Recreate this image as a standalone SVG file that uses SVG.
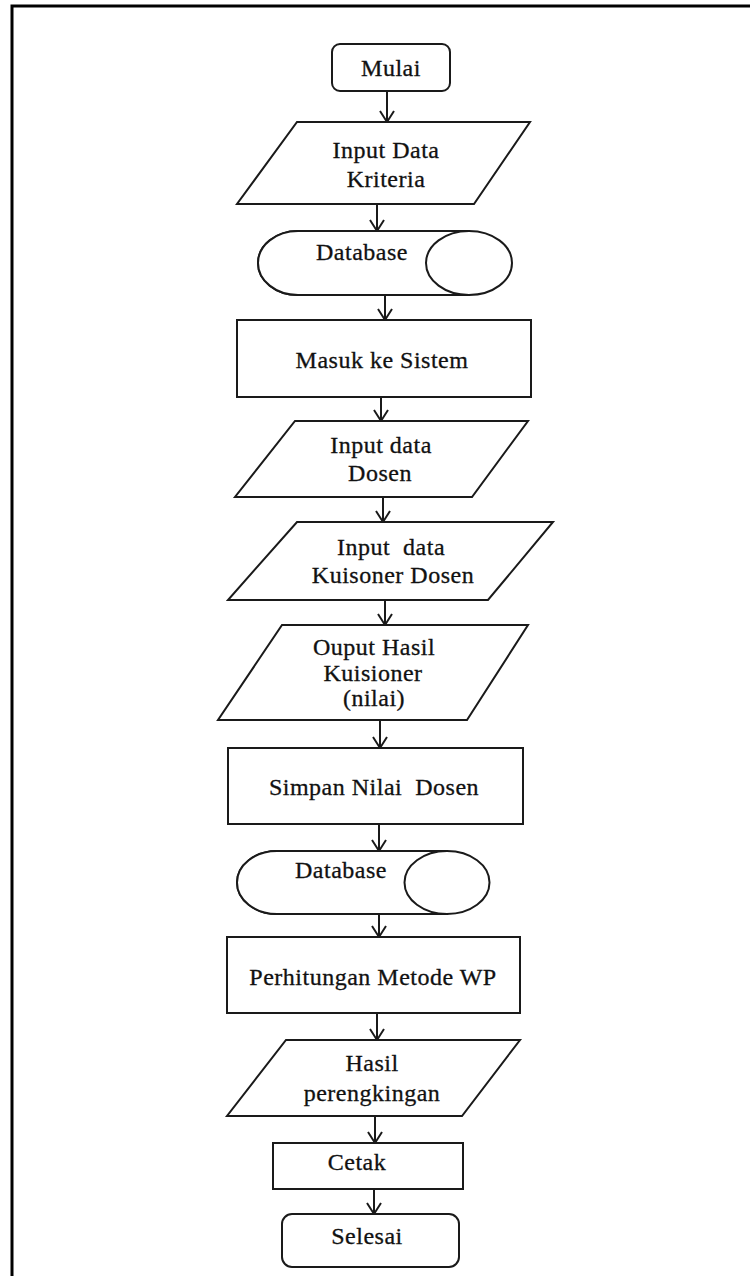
<svg xmlns="http://www.w3.org/2000/svg" width="750" height="1276" viewBox="0 0 750 1276">
  <style>
    .frame { fill: none; stroke: #000; stroke-width: 3; }
    .shape { fill: #fff; stroke: #1a1a1a; stroke-width: 2; }
    .flow { fill: none; stroke: #1a1a1a; stroke-width: 2; marker-end: url(#head); }
    .lbl { font-family: 'Liberation Serif', 'Times New Roman', serif; font-size: 24px; letter-spacing: 0.5px; fill: #111; stroke: #111; stroke-width: 0.3; text-anchor: middle; }
    .pre { white-space: pre; }
  </style>
  <defs>
    <marker id="head" viewBox="-12 -12 24 24" markerWidth="24" markerHeight="24" refX="0" refY="0" orient="auto" markerUnits="userSpaceOnUse" overflow="visible">
      <path d="M-11,-7 L0,0 L-11,7" fill="none" stroke="#1a1a1a" stroke-width="2"/>
    </marker>
  </defs>

  <rect width="750" height="1276" fill="#fff"/>
  <!-- page frame (left and top edges) -->
  <path class="frame" d="M12,1276 V6 H750"/>

  <g id="connectors">
    <line class="flow" x1="387" y1="91" x2="387" y2="122"/>
    <line class="flow" x1="377" y1="204" x2="377" y2="231"/>
    <line class="flow" x1="385" y1="295" x2="385" y2="320"/>
    <line class="flow" x1="381" y1="397" x2="381" y2="421"/>
    <line class="flow" x1="383" y1="497" x2="383" y2="522"/>
    <line class="flow" x1="385" y1="600" x2="385" y2="625"/>
    <line class="flow" x1="380" y1="720" x2="380" y2="748"/>
    <line class="flow" x1="379" y1="824" x2="379" y2="851"/>
    <line class="flow" x1="379" y1="914" x2="379" y2="937"/>
    <line class="flow" x1="377" y1="1013" x2="377" y2="1040"/>
    <line class="flow" x1="375" y1="1116" x2="375" y2="1143"/>
    <line class="flow" x1="374" y1="1189" x2="374" y2="1214"/>
  </g>

  <g id="mulai">
    <rect class="shape" x="332" y="44" width="118" height="47" rx="8"/>
    <text class="lbl" x="391" y="76">Mulai</text>
  </g>

  <g id="input-kriteria">
    <polygon class="shape" points="297,122 530,122 474,204 237,204"/>
    <text class="lbl" x="386" y="158">Input Data</text>
    <text class="lbl" x="386" y="187">Kriteria</text>
  </g>

  <g id="database-1">
    <path class="shape" d="M298,231 H469 V295 H298 A40,32 0 0 1 298,231 Z" stroke="none"/>
    <path class="shape" fill="none" d="M298,231 H469 M298,295 H469 M298,231 A40,32 0 0 0 298,295"/>
    <ellipse class="shape" cx="469" cy="263" rx="43" ry="32"/>
    <text class="lbl" x="362" y="260">Database</text>
  </g>

  <g id="masuk-sistem">
    <rect class="shape" x="237" y="320" width="294" height="77"/>
    <text class="lbl" x="382" y="368">Masuk ke Sistem</text>
  </g>

  <g id="input-dosen">
    <polygon class="shape" points="295,421 528,421 472,497 235,497"/>
    <text class="lbl" x="381" y="453">Input data</text>
    <text class="lbl" x="380" y="481">Dosen</text>
  </g>

  <g id="input-kuisoner">
    <polygon class="shape" points="297,522 553,522 488,600 228,600"/>
    <text class="lbl pre" x="391" y="555">Input  data</text>
    <text class="lbl" x="393" y="583">Kuisoner Dosen</text>
  </g>

  <g id="output-kuisioner">
    <polygon class="shape" points="282,625 528,625 467,720 218,720"/>
    <text class="lbl" x="374" y="655">Ouput Hasil</text>
    <text class="lbl" x="373" y="681">Kuisioner</text>
    <text class="lbl" x="374" y="706">(nilai)</text>
  </g>

  <g id="simpan-nilai">
    <rect class="shape" x="228" y="748" width="295" height="76"/>
    <text class="lbl pre" x="374" y="795">Simpan Nilai  Dosen</text>
  </g>

  <g id="database-2">
    <path class="shape" d="M277,851 H447 V914 H277 A40,31.5 0 0 1 277,851 Z" stroke="none"/>
    <path class="shape" fill="none" d="M277,851 H447 M277,914 H447 M277,851 A40,31.5 0 0 0 277,914"/>
    <ellipse class="shape" cx="447" cy="882.5" rx="42.5" ry="31.5"/>
    <text class="lbl" x="341" y="878">Database</text>
  </g>

  <g id="perhitungan-wp">
    <rect class="shape" x="227" y="937" width="293" height="76"/>
    <text class="lbl" x="373" y="985">Perhitungan Metode WP</text>
  </g>

  <g id="hasil-perengkingan">
    <polygon class="shape" points="286,1040 520,1040 462,1116 227,1116"/>
    <text class="lbl" x="372" y="1071">Hasil</text>
    <text class="lbl" x="372" y="1101">perengkingan</text>
  </g>

  <g id="cetak">
    <rect class="shape" x="273" y="1143" width="190" height="46"/>
    <text class="lbl" x="357" y="1170">Cetak</text>
  </g>

  <g id="selesai">
    <rect class="shape" x="282" y="1214" width="177" height="53" rx="10"/>
    <text class="lbl" x="367" y="1244">Selesai</text>
  </g>
</svg>
